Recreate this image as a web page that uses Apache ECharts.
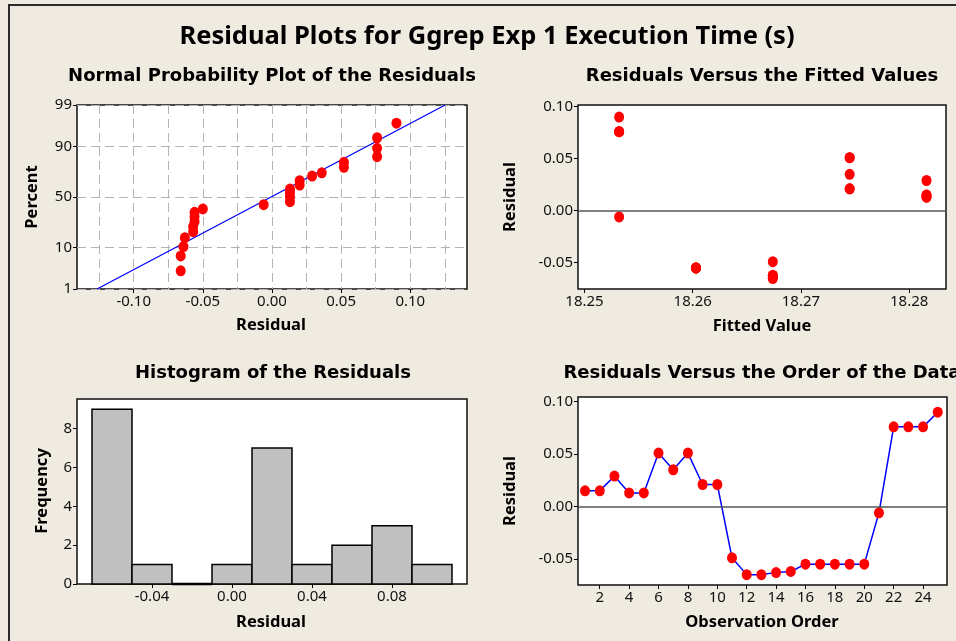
<!DOCTYPE html>
<html lang="en">
<head>
  <meta charset="UTF-8">
  <title>Residual Plots for Ggrep Exp 1 Execution Time (s)</title>
  <script src="https://cdn.jsdelivr.net/npm/echarts@6/dist/echarts.min.js"></script>
  <style>
    html, body { margin: 0; padding: 0; background: #efebe1; }
    #chart { width: 956px; height: 641px; }
  </style>
</head>
<body>
  <div id="chart"></div>
<script>
  // residuals in observation order
  const obsOrder = [1, 2, 3, 4, 5, 6, 7, 8, 9, 10, 11, 12, 13, 14, 15, 16, 17, 18, 19, 20, 21, 22, 23, 24, 25];
  const residuals = [0.015, 0.015, 0.029, 0.013, 0.013, 0.051, 0.035, 0.051, 0.021, 0.021,
                     -0.049, -0.065, -0.065, -0.063, -0.062, -0.055, -0.055, -0.055, -0.055, -0.055,
                     -0.006, 0.076, 0.076, 0.076, 0.090];
  const fittedValues = [18.2816, 18.2816, 18.2816, 18.2816, 18.2816,
                        18.2745, 18.2745, 18.2745, 18.2745, 18.2745,
                        18.2674, 18.2674, 18.2674, 18.2674, 18.2674,
                        18.2603, 18.2603, 18.2603, 18.2603, 18.2603,
                        18.2532, 18.2532, 18.2532, 18.2532, 18.2532];

  // normal probability plot
  const probResidual = [-0.066, -0.066, -0.064, -0.063, -0.057, -0.057, -0.056, -0.056, -0.056, -0.050,
                        -0.006, 0.013, 0.013, 0.013, 0.013, 0.020, 0.020, 0.029, 0.036, 0.052,
                        0.052, 0.076, 0.076, 0.076, 0.090];
  const probPercent = [3.1, 6.8, 10.5, 15.2, 19.0, 22.7, 26.6, 30.9, 34.9, 38.1,
                       42.3, 45.3, 50.3, 54.3, 58.0, 61.9, 66.0, 70.2, 73.0, 77.4,
                       81.0, 84.6, 89.1, 93.3, 96.9];
  const fitLineResidual = [-0.1265, 0.1252];
  const fitLinePercent = [1, 99];

  // histogram
  const binStart = [-0.07, -0.05, -0.03, -0.01, 0.01, 0.03, 0.05, 0.07, 0.09];
  const binEnd = [-0.05, -0.03, -0.01, 0.01, 0.03, 0.05, 0.07, 0.09, 0.11];
  const binCount = [9, 1, 0, 1, 7, 1, 2, 3, 1];

  // tick labels
  const percentTicks = [1, 10, 50, 90, 99];
  const probXTicks = [-0.10, -0.05, 0, 0.05, 0.10];
  const probXGrid = [-0.125, -0.10, -0.075, -0.05, -0.025, 0, 0.025, 0.05, 0.075, 0.10, 0.125];
  const fittedTicks = [18.25, 18.26, 18.27, 18.28];
  const residTicks = [-0.05, 0, 0.05, 0.10];
  const histXTicks = [-0.04, 0, 0.04, 0.08];
  const histYTicks = [0, 2, 4, 6, 8];
  const orderTicks = [2, 4, 6, 8, 10, 12, 14, 16, 18, 20, 22, 24];

  // inverse normal cdf (probability axis)
  function probit(p) {
    const a = [-39.69683028665376, 220.9460984245205, -275.9285104469687, 138.3577518672690, -30.66479806614716, 2.506628277459239];
    const b = [-54.47609879822406, 161.5858368580409, -155.6989798598866, 66.80131188771972, -13.28068155288572];
    const c = [-0.007784894002430293, -0.3223964580411365, -2.400758277161838, -2.549732539343734, 4.374664141464968, 2.938163982698783];
    const d = [0.007784695709041462, 0.3224671290700398, 2.445134137142996, 3.754408661907416];
    const pl = 0.02425;
    let q, r;
    if (p < pl) {
      q = Math.sqrt(-2 * Math.log(p));
      return (((((c[0]*q+c[1])*q+c[2])*q+c[3])*q+c[4])*q+c[5]) / ((((d[0]*q+d[1])*q+d[2])*q+d[3])*q+1);
    }
    if (p > 1 - pl) {
      q = Math.sqrt(-2 * Math.log(1 - p));
      return -(((((c[0]*q+c[1])*q+c[2])*q+c[3])*q+c[4])*q+c[5]) / ((((d[0]*q+d[1])*q+d[2])*q+d[3])*q+1);
    }
    q = p - 0.5;
    r = q * q;
    return (((((a[0]*r+a[1])*r+a[2])*r+a[3])*r+a[4])*r+a[5])*q / (((((b[0]*r+b[1])*r+b[2])*r+b[3])*r+b[4])*r+1);
  }

  const FONT = '"Noto Sans", "DejaVu Sans", sans-serif';
  const WIDE = '"DejaVu Sans", "Noto Sans", sans-serif';
  const percentZ = percentTicks.map(p => probit(p / 100));

  const tick = { show: true, inside: false, length: 4, lineStyle: { color: '#000', width: 1 } };
  const label = { color: '#111', fontSize: 15, fontFamily: FONT, margin: 5 };
  const noLine = { show: false, onZero: false };
  const gridBox = { show: true, backgroundColor: '#fff', borderColor: '#111', borderWidth: 1.5, containLabel: false };
  const fix2 = v => Number(v).toFixed(2);
  const zeroLine = {
    silent: true, symbol: 'none', label: { show: false },
    lineStyle: { color: '#555', type: 'solid', width: 1.5 },
    data: [{ yAxis: 0 }]
  };

  function text(x, y, str, font, rotate) {
    return {
      type: 'text', x: x, y: y, rotation: rotate ? Math.PI / 2 : 0,
      style: { text: str, fill: '#000', font: font, align: 'center', verticalAlign: 'middle' }
    };
  }
  const mainFont = 'bold 25.5px ' + FONT;
  const panelFont = 'bold 18px ' + WIDE;
  const nameFont = 'bold 16.5px ' + FONT;

  const chart = echarts.init(document.getElementById('chart'));
  chart.setOption({
    backgroundColor: '#efebe1',
    animation: false,
    grid: [
      Object.assign({ left: 77, top: 105, width: 390, height: 184 }, gridBox),
      Object.assign({ left: 578, top: 105, width: 368, height: 184 }, gridBox),
      Object.assign({ left: 77, top: 399, width: 390, height: 185 }, gridBox),
      Object.assign({ left: 578, top: 397, width: 369, height: 188 }, gridBox)
    ],
    xAxis: [
      { gridIndex: 0, type: 'value', min: -0.141, max: 0.141, axisLine: noLine,
        axisTick: Object.assign({ customValues: probXTicks }, tick),
        axisLabel: Object.assign({ customValues: probXTicks, formatter: fix2 }, label),
        splitLine: { show: false } },
      { gridIndex: 0, type: 'value', min: -0.141, max: 0.141, position: 'bottom',
        axisLine: noLine, axisLabel: { show: false },
        axisTick: { show: false, customValues: probXGrid },
        splitLine: { show: true, lineStyle: { color: '#b4b4b4', type: [9, 5], width: 1 } } },
      { gridIndex: 1, type: 'value', min: 18.2494, max: 18.2834, axisLine: noLine,
        axisTick: Object.assign({ customValues: fittedTicks }, tick),
        axisLabel: Object.assign({ customValues: fittedTicks, formatter: fix2 }, label),
        splitLine: { show: false } },
      { gridIndex: 2, type: 'value', min: -0.0775, max: 0.1175, axisLine: noLine,
        axisTick: Object.assign({ customValues: histXTicks }, tick),
        axisLabel: Object.assign({ customValues: histXTicks, formatter: fix2 }, label),
        splitLine: { show: false } },
      { gridIndex: 3, type: 'value', min: 0.52, max: 25.63, axisLine: noLine,
        axisTick: Object.assign({ customValues: orderTicks }, tick),
        axisLabel: Object.assign({ customValues: orderTicks }, label),
        splitLine: { show: false } }
    ],
    yAxis: [
      { gridIndex: 0, type: 'value', min: probit(0.01), max: probit(0.99), axisLine: noLine,
        axisTick: Object.assign({ customValues: percentZ }, tick),
        axisLabel: Object.assign({ customValues: percentZ, formatter: v => {
          const i = percentZ.findIndex(z => Math.abs(z - v) < 1e-6);
          return i < 0 ? '' : String(percentTicks[i]);
        } }, label),
        splitLine: { show: true, lineStyle: { color: '#b4b4b4', type: [9, 5], width: 1 } } },
      { gridIndex: 1, type: 'value', min: -0.0753, max: 0.1016, axisLine: noLine,
        axisTick: Object.assign({ customValues: residTicks }, tick),
        axisLabel: Object.assign({ customValues: residTicks, formatter: fix2 }, label),
        splitLine: { show: false } },
      { gridIndex: 2, type: 'value', min: 0, max: 9.53, axisLine: noLine,
        axisTick: Object.assign({ customValues: histYTicks }, tick),
        axisLabel: Object.assign({ customValues: histYTicks }, label),
        splitLine: { show: false } },
      { gridIndex: 3, type: 'value', min: -0.0749, max: 0.1045, axisLine: noLine,
        axisTick: Object.assign({ customValues: residTicks }, tick),
        axisLabel: Object.assign({ customValues: residTicks, formatter: fix2 }, label),
        splitLine: { show: false } }
    ],
    series: [
      { type: 'line', xAxisIndex: 0, yAxisIndex: 0, symbol: 'none', z: 3,
        lineStyle: { color: '#0000ff', width: 1.3 },
        data: fitLineResidual.map((x, i) => [x, probit(fitLinePercent[i] / 100)]) },
      { type: 'scatter', xAxisIndex: 0, yAxisIndex: 0, symbolSize: [10, 11], z: 4,
        itemStyle: { color: '#ff0000', opacity: 1 },
        data: probResidual.map((x, i) => [x, probit(probPercent[i] / 100)]) },
      { type: 'scatter', xAxisIndex: 2, yAxisIndex: 1, symbolSize: [10, 11],
        itemStyle: { color: '#ff0000', opacity: 1 },
        data: fittedValues.map((f, i) => [f, residuals[i]]),
        markLine: zeroLine },
      { type: 'custom', xAxisIndex: 3, yAxisIndex: 2,
        encode: { x: [0, 1], y: 2 },
        data: binStart.map((s, i) => [s, binEnd[i], binCount[i]]),
        renderItem: (params, api) => {
          const p0 = api.coord([api.value(0), api.value(2)]);
          const p1 = api.coord([api.value(1), 0]);
          return {
            type: 'rect',
            shape: { x: p0[0], y: p0[1], width: p1[0] - p0[0], height: p1[1] - p0[1] },
            style: { fill: '#c0c0c0', stroke: '#000', lineWidth: api.value(2) === 0 ? 2.5 : 1.5 }
          };
        } },
      { type: 'line', xAxisIndex: 4, yAxisIndex: 3, symbol: 'circle', symbolSize: [10, 11],
        lineStyle: { color: '#0000ff', width: 1.5 },
        itemStyle: { color: '#ff0000', opacity: 1 },
        data: obsOrder.map((o, i) => [o, residuals[i]]),
        markLine: zeroLine }
    ],
    graphic: [
      { type: 'rect', shape: { x: 9, y: 5, width: 1000, height: 700 },
        style: { fill: 'none', stroke: '#2b2b2b', lineWidth: 2 }, silent: true },
      text(487, 37, 'Residual Plots for Ggrep Exp 1 Execution Time (s)', mainFont),
      text(272, 76, 'Normal Probability Plot of the Residuals', panelFont),
      text(762, 76, 'Residuals Versus the Fitted Values', panelFont),
      text(273, 373, 'Histogram of the Residuals', panelFont),
      text(762, 373, 'Residuals Versus the Order of the Data', panelFont),
      text(271, 325, 'Residual', nameFont),
      text(762, 326, 'Fitted Value', nameFont),
      text(271, 622, 'Residual', nameFont),
      text(762, 622, 'Observation Order', nameFont),
      text(32, 197, 'Percent', nameFont, true),
      text(510, 197, 'Residual', nameFont, true),
      text(42, 491, 'Frequency', nameFont, true),
      text(510, 491, 'Residual', nameFont, true)
    ]
  });
</script>
</body>
</html>
